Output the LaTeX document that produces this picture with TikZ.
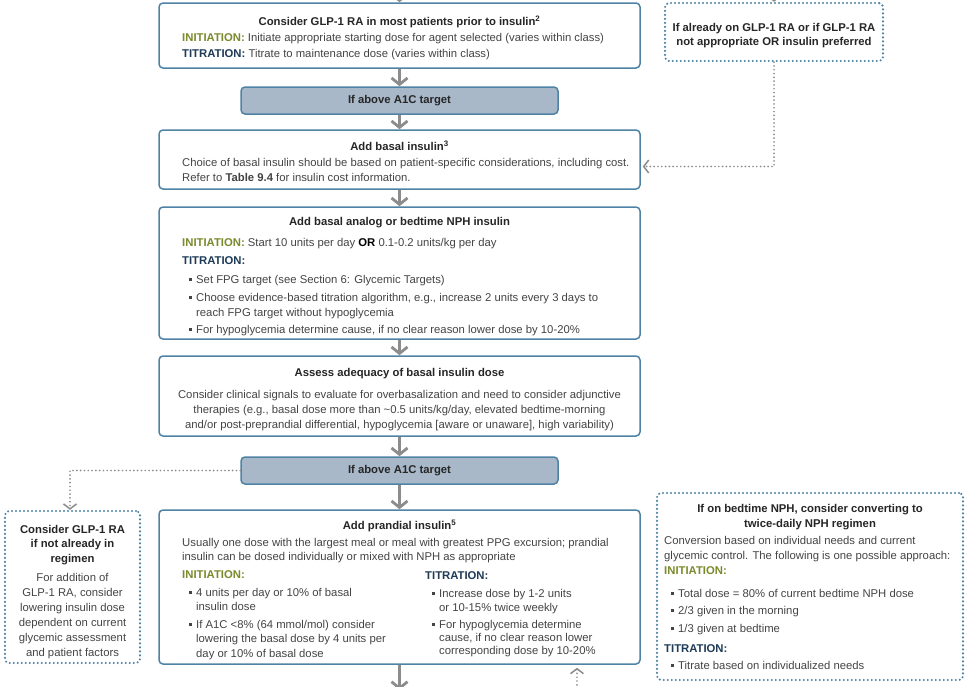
\documentclass[tikz,border=0pt]{standalone}
\usepackage{fontspec}
\setmainfont{Liberation Sans}
\usetikzlibrary{arrows.meta}

\definecolor{boxblue}{HTML}{4F83A6}
\definecolor{targetfill}{HTML}{A8B8C8}
\definecolor{flowgray}{HTML}{8C8C8C}
\definecolor{initgreen}{HTML}{7B8A2C}
\definecolor{titrnavy}{HTML}{1F3B57}
\definecolor{bodygray}{HTML}{444444}

\newcommand\txt{\fontsize{11.3}{14.5}\selectfont}
\newcommand\bul{\hspace*{7pt}\rule[2.3pt]{3pt}{3pt}\hspace{4pt}}
\newcommand\ind{\hspace*{14pt}}
\newcommand\initlbl{\textcolor{initgreen}{\bfseries INITIATION:}}
\newcommand\titrlbl{\textcolor{titrnavy}{\bfseries TITRATION:}}

\begin{document}
\begin{tikzpicture}[x=1pt, y=-1pt,
    box/.style={draw=boxblue, line width=1.5pt, rounded corners=4pt, fill=white, inner sep=0pt, minimum width=481pt},
    target/.style={box, fill=targetfill, minimum width=317pt, minimum height=27pt, font=\txt\bfseries, text=black!85},
    dotbox/.style={draw=boxblue, line width=2.3pt, line cap=round, dash pattern=on 0pt off 4pt, rounded corners=4pt, inner sep=0pt},
    flow/.style={draw=flowgray, line width=2.8pt, -{Straight Barb[length=6.5pt, width=16pt]}},
    dotflow/.style={draw=flowgray, line width=1.9pt, line cap=round, dash pattern=on 0pt off 3.8pt, -{Straight Barb[length=5pt, width=13pt, line width=1.5pt]}},
    head/.style={font=\txt\bfseries, text=black!85, anchor=base, align=center, inner sep=0pt},
    body/.style={font=\txt, text=bodygray, anchor=base west, align=left, inner sep=0pt}]
  \useasboundingbox (0,0) rectangle (966,686);
  \clip (0,0) rectangle (966,686);

  % main column
  \node[box, minimum height=65pt] (glp) at (399.5,35.5) {};
  \node[target] (above1) at (399.5,100.5) {If above A1C target};
  \node[box, minimum height=59pt] (basal) at (399.5,159.5) {};
  \node[box, minimum height=132pt] (analog) at (399.5,273) {};
  \node[box, minimum height=80pt] (assess) at (399.5,396) {};
  \node[target] (above2) at (399.5,470.5) {If above A1C target};
  \node[box, minimum height=154pt] (prandial) at (399.5,587) {};

  % side boxes
  \node[dotbox, minimum width=218pt, minimum height=58pt] (already) at (774,32) {};
  \node[dotbox, minimum width=135pt, minimum height=152pt] (glpside) at (72.5,587) {};
  \node[dotbox, minimum width=306pt, minimum height=187pt] (nph) at (810,586.5) {};

  % texts (placed by the baseline of their last line)
  \node[head] (glphead) at (399.5,25) {Consider GLP-1 RA in most patients prior to insulin\textsuperscript{2}};
  \node[body] (glpbody) at (182,57) {\initlbl{} Initiate appropriate starting dose for agent selected (varies within class)\\[1.5pt]
    \titrlbl{} Titrate to maintenance dose (varies within class)};

  \node[head] (basalhead) at (399.5,150) {Add basal insulin\textsuperscript{3}};
  \node[body] (basalbody) at (182,181) {Choice of basal insulin should be based on patient-specific considerations, including cost.\\[0.5pt]
    Refer to \textbf{Table 9.4} for insulin cost information.};

  \node[head] (analoghead) at (399.5,225) {Add basal analog or bedtime NPH insulin};
  \node[body] (analogbody) at (182,333) {\initlbl{} Start 10 units per day {\color{black}\bfseries OR} 0.1-0.2 units/kg per day\\[3.5pt]
    \titrlbl\\[4.5pt]
    \bul Set FPG target (see Section 6: Glycemic Targets)\\[3.5pt]
    \bul Choose evidence-based titration algorithm, e.g., increase 2 units every 3 days to\\
    \ind reach FPG target without hypoglycemia\\[2.5pt]
    \bul For hypoglycemia determine cause, if no clear reason lower dose by 10-20\%};

  \node[head] (assesshead) at (399.5,376) {Assess adequacy of basal insulin dose};
  \node[body, anchor=base, align=center] (assessbody) at (399.5,428) {Consider clinical signals to evaluate for overbasalization and need to consider adjunctive\\[0.5pt]
    therapies (e.g., basal dose more than \textasciitilde0.5 units/kg/day, elevated bedtime-morning\\[0.5pt]
    and/or post-preprandial differential, hypoglycemia [aware or unaware], high variability)};

  \node[head] (prandhead) at (399.5,529) {Add prandial insulin\textsuperscript{5}};
  \node[body] (prandbody) at (182,560) {Usually one dose with the largest meal or meal with greatest PPG excursion; prandial\\[-0.5pt]
    insulin can be dosed individually or mixed with NPH as appropriate};
  \node[body] (prandinit) at (182,657) {\initlbl\\[3.5pt]
    \bul 4 units per day or 10\% of basal\\[-0.5pt]
    \ind insulin dose\\[3.5pt]
    \bul If A1C <8\% (64 mmol/mol) consider\\[-1pt]
    \ind lowering the basal dose by 4 units per\\[0.5pt]
    \ind day or 10\% of basal dose};
  \node[body] (prandtitr) at (425,654) {\titrlbl\\[3.5pt]
    \bul Increase dose by 1-2 units\\[-0.5pt]
    \ind or 10-15\% twice weekly\\[2.5pt]
    \bul For hypoglycemia determine\\[-1.5pt]
    \ind cause, if no clear reason lower\\[-1.5pt]
    \ind corresponding dose by 10-20\%};

  \node[head] (alreadyhead) at (774,45) {If already on GLP-1 RA or if GLP-1 RA\\[-0.5pt]
    not appropriate OR insulin preferred};

  \node[head] (glpsidehead) at (72.5,562) {Consider GLP-1 RA\\[0pt] if not already in\\[0pt] regimen};
  \node[body, anchor=base, align=center] (glpsidebody) at (72.5,656) {For addition of\\[0.5pt] GLP-1 RA, consider\\[0.5pt]
    lowering insulin dose\\[0.5pt] dependent on current\\[0.5pt] glycemic assessment\\[0.5pt] and patient factors};

  \node[head] (nphhead) at (810,527) {If on bedtime NPH, consider converting to\\[0.5pt] twice-daily NPH regimen};
  \node[body] (nphbody) at (664,669) {Conversion based on individual needs and current\\[0.5pt]
    glycemic control. The following is one possible approach:\\[0.5pt]
    \initlbl\\[8.5pt]
    \bul Total dose = 80\% of current bedtime NPH dose\\[2.5pt]
    \bul 2/3 given in the morning\\[3.5pt]
    \bul 1/3 given at bedtime\\[5.5pt]
    \titrlbl\\[2.5pt]
    \bul Titrate based on individualized needs};

  % connectors
  \coordinate (glpin) at (399.5,-15);
  \coordinate (alreadyin) at (774,-15);
  \coordinate (prandout) at (399.5,690);
  \coordinate (nphback) at (577,700);
  \draw[flow] (glpin) -- (glp);
  \draw[flow] (glp) -- (above1);
  \draw[flow] (above1) -- (basal);
  \draw[flow] (basal) -- (analog);
  \draw[flow] (analog) -- (assess);
  \draw[flow] (assess) -- (above2);
  \draw[flow] (above2) -- (prandial);
  \draw[flow] (prandial) -- (prandout);
  \draw[dotflow] (alreadyin) -- (already);
  \draw[dotflow] (already.south) |- ([yshift=-7pt, xshift=2pt]basal.east);
  \draw[dotflow] (above2.west) -| ([xshift=-2.5pt]glpside.north);
  \draw[dotflow, shorten >=3pt] (nphback) -- (prandial.south -| nphback);
\end{tikzpicture}
\end{document}
